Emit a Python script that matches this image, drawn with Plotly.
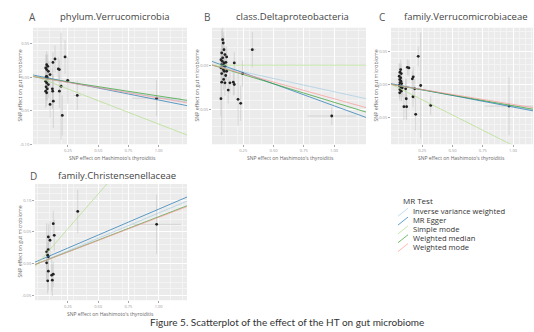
import plotly.graph_objects as go

W, H = 534, 332

# ---------------- data ----------------
methods = ["Inverse variance weighted", "MR Egger", "Simple mode", "Weighted median", "Weighted mode"]
method_colors = ["#a6cee3", "#1f78b4", "#b2df8a", "#33a02c", "#fb9a99"]

panel_letters = ["A", "B", "C", "D"]
panel_titles = ["phylum.Verrucomicrobia", "class.Deltaproteobacteria",
                "family.Verrucomicrobiaceae", "family.Christensenellaceae"]

x_tickvals = [0.25, 0.50, 0.75, 1.00]
x_ticktext = ["0.25", "0.50", "0.75", "1.00"]

# Panel A
a_bx = [0.226, 0.143, 0.126, 0.074, 0.083, 0.066, 0.074, 0.088, 0.170, 0.179, 0.102, 0.074, 0.069, 0.079,
        0.248, 0.066, 0.074, 0.088, 0.069, 0.079, 0.066, 0.074, 0.121, 0.124, 0.193, 0.179, 0.327, 0.129,
        0.102, 0.203, 0.983]
a_by = [0.0304, 0.0274, 0.0223, 0.0189, 0.0164, 0.0140, 0.0115, 0.0089, 0.0125, 0.0115, 0.0040, 0.0015,
        0.0006, -0.0009, -0.0045, -0.0060, -0.0083, -0.0109, -0.0143, -0.0173, -0.0208, -0.0232, -0.0173,
        -0.0208, -0.0134, -0.0208, -0.0272, -0.0357, -0.0406, -0.0570, -0.0312]
a_sex = [0.015, 0.012, 0.010, 0.010, 0.012, 0.008, 0.010, 0.010, 0.012, 0.012, 0.010, 0.008, 0.010, 0.010,
         0.020, 0.008, 0.010, 0.010, 0.008, 0.010, 0.008, 0.010, 0.012, 0.012, 0.015, 0.012, 0.030, 0.012,
         0.010, 0.015, 0.200]
a_sey = [0.025, 0.020, 0.015, 0.020, 0.018, 0.020, 0.022, 0.015, 0.018, 0.015, 0.020, 0.025, 0.020, 0.018,
         0.035, 0.020, 0.025, 0.020, 0.020, 0.018, 0.025, 0.020, 0.030, 0.025, 0.080, 0.025, 0.022, 0.040,
         0.020, 0.030, 0.027]
a_intercepts = [0.0, 0.002, 0.0, 0.0, 0.0]
a_slopes = [-0.030, -0.036, -0.070, -0.028, -0.031]
a_yticks = [0.05, 0.00, -0.05, -0.10]
a_yticktext = ["0.05", "0.00", "-0.05", "-0.10"]

# Panel B
b_bx = [0.080, 0.085, 0.091, 0.072, 0.099, 0.113, 0.080, 0.066, 0.077, 0.093, 0.107, 0.072, 0.085, 0.099,
        0.066, 0.085, 0.093, 0.113, 0.072, 0.105, 0.088, 0.072, 0.099, 0.140, 0.168, 0.176, 0.126, 0.066,
        0.207, 0.229, 0.325, 0.176, 0.245, 0.981]
b_by = [0.0290, 0.0253, 0.0177, 0.0140, 0.0121, 0.0095, 0.0084, 0.0064, 0.0045, 0.0027, 0.0034, 0.0008,
        0.0000, -0.0011, -0.0029, -0.0049, -0.0068, -0.0068, -0.0094, -0.0116, -0.0161, -0.0192, -0.0199,
        -0.0199, -0.0192, -0.0218, -0.0282, -0.0379, -0.0387, -0.0432, 0.0177, 0.0027, -0.0094, -0.0576]
b_sex = [0.008, 0.010, 0.010, 0.008, 0.010, 0.012, 0.008, 0.008, 0.010, 0.010, 0.012, 0.008, 0.010, 0.010,
         0.008, 0.010, 0.010, 0.012, 0.008, 0.012, 0.010, 0.008, 0.010, 0.012, 0.015, 0.015, 0.012, 0.008,
         0.015, 0.015, 0.030, 0.015, 0.020, 0.200]
b_sey = [0.015, 0.012, 0.015, 0.012, 0.010, 0.012, 0.015, 0.012, 0.015, 0.010, 0.012, 0.015, 0.012, 0.010,
         0.015, 0.012, 0.015, 0.010, 0.012, 0.015, 0.012, 0.060, 0.015, 0.012, 0.015, 0.012, 0.015, 0.020,
         0.030, 0.020, 0.020, 0.012, 0.015, 0.010]
b_intercepts = [0.0, 0.004, 0.0, 0.0, 0.0]
b_slopes = [-0.030, -0.050, 0.000, -0.042, -0.038]
b_yticks = [0.00, -0.05]
b_yticktext = ["0.00", "-0.05"]

# Panel C
c_bx = [0.217, 0.127, 0.140, 0.176, 0.168, 0.072, 0.066, 0.077, 0.060, 0.072, 0.064, 0.074, 0.066, 0.080,
        0.060, 0.072, 0.085, 0.066, 0.077, 0.064, 0.237, 0.113, 0.118, 0.121, 0.099, 0.174, 0.188, 0.196,
        0.320, 0.967]
c_by = [0.0425, 0.0260, 0.0251, 0.0116, 0.0086, 0.0225, 0.0185, 0.0165, 0.0125, 0.0101, 0.0075, 0.0050,
        0.0026, 0.0015, -0.0015, -0.0035, -0.0050, -0.0075, -0.0101, -0.0125, -0.0015, -0.0065, -0.0215,
        -0.0335, -0.0335, -0.0185, -0.0065, -0.0450, -0.0315, -0.0326]
c_sex = [0.015, 0.010, 0.010, 0.012, 0.012, 0.008, 0.008, 0.010, 0.008, 0.008, 0.008, 0.010, 0.008, 0.010,
         0.008, 0.008, 0.010, 0.008, 0.010, 0.008, 0.015, 0.010, 0.010, 0.010, 0.010, 0.012, 0.012, 0.012,
         0.020, 0.200]
c_sey = [0.015, 0.012, 0.012, 0.015, 0.012, 0.015, 0.012, 0.015, 0.020, 0.015, 0.012, 0.015, 0.012, 0.015,
         0.018, 0.012, 0.015, 0.012, 0.015, 0.012, 0.080, 0.015, 0.030, 0.020, 0.020, 0.015, 0.015, 0.025,
         0.014, 0.044]
c_intercepts = [0.0, 0.001, 0.0, 0.0, 0.0]
c_slopes = [-0.033, -0.035, -0.092, -0.032, -0.030]
c_yticks = [0.05, 0.00, -0.05]
c_yticktext = ["0.05", "0.00", "-0.05"]

# Panel D
d_bx = [0.331, 0.129, 0.137, 0.088, 0.102, 0.088, 0.074, 0.083, 0.088, 0.074, 0.088, 0.129, 0.116, 0.083,
        0.121, 0.983]
d_by = [0.0825, 0.0631, 0.0446, 0.0421, 0.0368, 0.0221, 0.0185, 0.0131, 0.0106, 0.0011, -0.0121, -0.0169,
        -0.0185, -0.0273, -0.0263, 0.0620]
d_sex = [0.020, 0.012, 0.012, 0.010, 0.010, 0.010, 0.008, 0.010, 0.010, 0.008, 0.010, 0.012, 0.012, 0.010,
         0.012, 0.200]
d_sey = [0.034, 0.020, 0.025, 0.020, 0.030, 0.025, 0.045, 0.020, 0.030, 0.025, 0.030, 0.020, 0.025, 0.020,
         0.025, 0.047]
d_intercepts = [0.0, 0.004, 0.0, 0.0, 0.0]
d_slopes = [0.080, 0.082, 0.220, 0.074, 0.073]
d_yticks = [0.10, 0.05, 0.00, -0.05]
d_yticktext = ["0.10", "0.05", "0.00", "-0.05"]

# ---------------- layout geometry (pixels) ----------------
panels = [
    dict(bx=a_bx, by=a_by, sex=a_sex, sey=a_sey, ic=a_intercepts, sl=a_slopes, yt=a_yticks, ytt=a_yticktext,
         box=(33, 187, 28, 145), xr=(-0.039, 1.234), yr=(-0.100, 0.074),
         letter=(32, 17), title=(115, 17), ytitle=(20, 86), xtitle=(112, 159)),
    dict(bx=b_bx, by=b_by, sex=b_sex, sey=b_sey, ic=b_intercepts, sl=b_slopes, yt=b_yticks, ytt=b_yticktext,
         box=(212, 366, 28, 145), xr=(-0.008, 1.264), yr=(-0.0895, 0.0425),
         letter=(207, 17), title=(292, 17), ytitle=(197, 86), xtitle=(290, 159)),
    dict(bx=c_bx, by=c_by, sex=c_sex, sey=c_sey, ic=c_intercepts, sl=c_slopes, yt=c_yticks, ytt=c_yticktext,
         box=(391, 533, 28, 145), xr=(-0.008, 1.165), yr=(-0.090, 0.0856),
         letter=(382, 17), title=(466, 17), ytitle=(376, 86), xtitle=(461, 159)),
    dict(bx=d_bx, by=d_by, sex=d_sex, sey=d_sey, ic=d_intercepts, sl=d_slopes, yt=d_yticks, ytt=d_yticktext,
         box=(35, 187, 185, 302), xr=(-0.022, 1.234), yr=(-0.058, 0.126),
         letter=(33, 177), title=(117, 177), ytitle=(20, 243), xtitle=(110, 316)),
]

FONT = "Open Sans"

def fx(p):
    return p / W

def fy(p):
    return 1 - p / H

fig = go.Figure()
annotations = []
shapes = []

for i, p in enumerate(panels):
    k = "" if i == 0 else str(i + 1)
    xa, ya = "x" + k, "y" + k
    x0, x1, y0, y1 = p["box"]
    fig.add_trace(go.Scatter(
        x=p["bx"], y=p["by"], mode="markers", xaxis=xa, yaxis=ya, showlegend=False,
        marker=dict(color="#222222", size=2.8),
        error_x=dict(type="data", array=p["sex"], color="#C4C4C4", thickness=0.6, width=0),
        error_y=dict(type="data", array=p["sey"], color="#C4C4C4", thickness=0.6, width=0),
    ))
    for m, col, a, b in zip(methods, method_colors, p["ic"], p["sl"]):
        xs = list(p["xr"])
        fig.add_trace(go.Scatter(
            x=xs, y=[a + b * v for v in xs], mode="lines", xaxis=xa, yaxis=ya,
            showlegend=False, name=m, line=dict(color=col, width=1.0), opacity=0.7,
        ))
    axis_common = dict(showline=False, zeroline=False, ticks="outside", ticklen=2, tickwidth=0.6,
                       tickcolor="#A8A8A8", tickfont=dict(family=FONT, size=4, color="#999999"),
                       gridcolor="#FFFFFF", gridwidth=0.7,
                       minor=dict(showgrid=True, gridcolor="#F4F4F4", gridwidth=0.4))
    fig.update_layout(**{
        ("xaxis" + k): dict(domain=[fx(x0), fx(x1)], range=list(p["xr"]), anchor=ya,
                            tickvals=x_tickvals, ticktext=x_ticktext, **axis_common),
        ("yaxis" + k): dict(domain=[fy(y1), fy(y0)], range=list(p["yr"]), anchor=xa,
                            tickvals=p["yt"], ticktext=p["ytt"], **axis_common),
    })
    # plot background rectangle
    shapes.append(dict(type="rect", xref="paper", yref="paper", x0=fx(x0), x1=fx(x1), y0=fy(y1), y1=fy(y0),
                       fillcolor="#EBEBEB", line=dict(width=0), layer="below"))
    lx, ly = p["letter"]
    annotations.append(dict(text=panel_letters[i], x=fx(lx), y=fy(ly), xref="paper", yref="paper",
                            showarrow=False, xanchor="center", yanchor="middle",
                            font=dict(family=FONT, size=10, color="#555555")))
    tx, ty = p["title"]
    annotations.append(dict(text=panel_titles[i], x=fx(tx), y=fy(ty), xref="paper", yref="paper",
                            showarrow=False, xanchor="center", yanchor="middle",
                            font=dict(family=FONT, size=9.5, color="#444444")))
    yx, yy = p["ytitle"]
    annotations.append(dict(text="SNP effect on gut microbiome", x=fx(yx), y=fy(yy), xref="paper",
                            yref="paper", showarrow=False, textangle=-90, xanchor="center",
                            yanchor="middle", font=dict(family=FONT, size=5.2, color="#666666")))
    xx, xy = p["xtitle"]
    annotations.append(dict(text="SNP effect on Hashimoto's thyroiditis", x=fx(xx), y=fy(xy), xref="paper",
                            yref="paper", showarrow=False, xanchor="center", yanchor="middle",
                            font=dict(family=FONT, size=5.0, color="#666666")))

# legend (drawn manually to mimic ggplot abline keys)
leg_x, leg_title_y, leg_y0, leg_dy = 401, 202, 212.5, 8.9
annotations.append(dict(text="MR Test", x=fx(leg_x), y=fy(leg_title_y), xref="paper", yref="paper",
                        showarrow=False, xanchor="left", yanchor="middle",
                        font=dict(family=FONT, size=8, color="#333333")))
for j, (m, col) in enumerate(zip(methods, method_colors)):
    yy = leg_y0 + j * leg_dy
    annotations.append(dict(text=m, x=fx(leg_x + 9.5), y=fy(yy), xref="paper", yref="paper",
                            showarrow=False, xanchor="left", yanchor="middle",
                            font=dict(family=FONT, size=7.6, color="#333333")))
    shapes.append(dict(type="line", xref="paper", yref="paper", x0=fx(leg_x - 3), y0=fy(yy + 5),
                       x1=fx(leg_x + 7), y1=fy(yy - 3), line=dict(color=col, width=1.0), opacity=0.7))

annotations.append(dict(text="Figure 5. Scatterplot of the effect of the HT on gut microbiome",
                        x=fx(287), y=fy(324), xref="paper", yref="paper", showarrow=False,
                        xanchor="center", yanchor="middle",
                        font=dict(family="Lato", size=10, color="#333333")))

fig.update_layout(
    width=W, height=H, margin=dict(l=0, r=0, t=0, b=0),
    paper_bgcolor="white", plot_bgcolor="rgba(0,0,0,0)",
    annotations=annotations, shapes=shapes, showlegend=False,
)

fig.write_html("out.html", config={"displayModeBar": False},
               post_script="document.body.style.margin='0';")
